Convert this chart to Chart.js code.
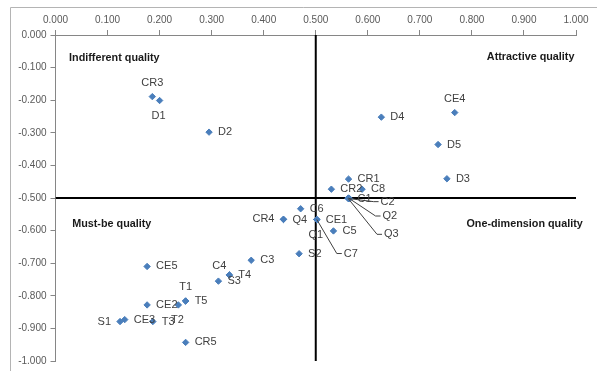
<!DOCTYPE html>
<html>
<head>
<meta charset="utf-8">
<script src="https://cdn.jsdelivr.net/npm/chart.js@4/dist/chart.umd.min.js"></script>
<style>
  body { margin: 0; background: #fff; }
  #wrap { width: 597px; height: 371px; }
</style>
</head>
<body>
<div id="wrap"><canvas id="kanoChart" width="597" height="371"></canvas></div>
<script>
// attribute codes and their (satisfaction, dissatisfaction) coordinates
var names = ['CR1', 'CR2', 'CR3', 'CR4', 'CR5', 'CE1', 'CE2', 'CE3', 'CE4', 'CE5',
             'C1', 'C2', 'C3', 'C4', 'C5', 'C6', 'C7', 'C8',
             'D1', 'D2', 'D3', 'D4', 'D5', 'Q1', 'Q2', 'Q3', 'Q4',
             'S1', 'S2', 'S3', 'T1', 'T2', 'T3', 'T4', 'T5'];
var xValues = [0.563, 0.530, 0.186, 0.438, 0.250, 0.502, 0.176, 0.133, 0.767, 0.176,
               0.563, 0.565, 0.376, 0.334, 0.534, 0.471, 0.502, 0.589,
               0.200, 0.295, 0.752, 0.626, 0.735, 0.502, 0.563, 0.562, 0.438,
               0.124, 0.468, 0.313, 0.250, 0.236, 0.187, 0.334, 0.250];
var yValues = [-0.442, -0.473, -0.189, -0.565, -0.943, -0.566, -0.828, -0.873, -0.238, -0.710,
               -0.502, -0.502, -0.691, -0.736, -0.601, -0.533, -0.566, -0.473,
               -0.201, -0.298, -0.441, -0.252, -0.336, -0.566, -0.500, -0.501, -0.566,
               -0.879, -0.671, -0.755, -0.816, -0.828, -0.879, -0.736, -0.816];

var xTicks = [0, 0.1, 0.2, 0.3, 0.4, 0.5, 0.6, 0.7, 0.8, 0.9, 1.0];
var yTicks = [0, -0.1, -0.2, -0.3, -0.4, -0.5, -0.6, -0.7, -0.8, -0.9, -1.0];

var quadrantNames = ['Indifferent quality', 'Attractive quality', 'Must-be quality', 'One-dimension quality'];
var quadrantX = [0.026, 0.997, 0.032, 1.013];
var quadrantY = [-0.071, -0.068, -0.580, -0.580];
var quadrantAlign = ['left', 'right', 'left', 'right'];

// where each point label goes (default is to the right)
var labelSide = { CR3: 'above', CE4: 'above', T1: 'above', D1: 'below', Q1: 'below', T2: 'below',
                  CR4: 'left', S1: 'left', C4: 'aboveLeft' };
// labels pulled away with a leader line: elbow offset from the point
var leaders = { C2: [24, 3], Q2: [27, 18], Q3: [29, 36], C7: [20, 34] };

var points = names.map(function (n, i) { return { x: xValues[i], y: yValues[i] }; });

var crossLines = {
    id: 'frameAndLabels',
    beforeDraw: function (chart) {
        var ctx = chart.ctx;
        ctx.save();
        ctx.strokeStyle = '#b4b4b4';
        ctx.lineWidth = 1;
        ctx.beginPath();
        ctx.moveTo(10.5, chart.height);
        ctx.lineTo(10.5, 7.5);
        ctx.lineTo(chart.width, 7.5);
        ctx.stroke();
        ctx.restore();
    },
    afterDatasetsDraw: function (chart) {
        var ctx = chart.ctx;
        var xs = chart.scales.x, ys = chart.scales.y;
        var meta = chart.getDatasetMeta(2);
        ctx.save();
        ctx.font = '11px "Liberation Sans", Arial, sans-serif';
        ctx.fillStyle = '#404040';
        ctx.textBaseline = 'middle';
        meta.data.forEach(function (pt, i) {
            var n = names[i];
            var px = pt.x, py = pt.y;
            if (leaders[n]) {
                var ex = px + leaders[n][0], ey = py + leaders[n][1];
                ctx.strokeStyle = '#404040';
                ctx.lineWidth = 1;
                ctx.beginPath();
                ctx.moveTo(px, py);
                ctx.lineTo(ex, ey);
                ctx.lineTo(ex + 5, ey);
                ctx.stroke();
                ctx.textAlign = 'left';
                ctx.fillText(n, ex + 7, ey);
                return;
            }
            var side = labelSide[n] || 'right';
            if (side === 'above') {
                ctx.textAlign = 'center';
                ctx.fillText(n, px, py - 14);
            } else if (side === 'below') {
                ctx.textAlign = 'center';
                ctx.fillText(n, px - 1, py + 15);
            } else if (side === 'left') {
                ctx.textAlign = 'right';
                ctx.fillText(n, px - 9, py);
            } else if (side === 'aboveLeft') {
                ctx.textAlign = 'center';
                ctx.fillText(n, px - 10, py - 9);
            } else {
                ctx.textAlign = 'left';
                ctx.fillText(n, px + 9, py);
            }
        });
        ctx.font = 'bold 10.8px "Liberation Sans", Arial, sans-serif';
        ctx.fillStyle = '#1a1a1a';
        quadrantNames.forEach(function (q, i) {
            ctx.textAlign = quadrantAlign[i];
            ctx.fillText(q, xs.getPixelForValue(quadrantX[i]), ys.getPixelForValue(quadrantY[i]));
        });
        ctx.restore();
    }
};

var ctx = document.getElementById('kanoChart').getContext('2d');
window.kanoChart = new Chart(ctx, {
    type: 'scatter',
    data: {
        datasets: [
            {
                label: 'x = 0.5',
                data: [{ x: 0.5, y: 0 }, { x: 0.5, y: -1 }],
                showLine: true,
                borderColor: '#000000',
                borderWidth: 2,
                pointRadius: 0,
                order: 3
            },
            {
                label: 'y = -0.5',
                data: [{ x: 0, y: -0.5 }, { x: 1, y: -0.5 }],
                showLine: true,
                borderColor: '#000000',
                borderWidth: 2,
                pointRadius: 0,
                order: 2
            },
            {
                label: 'attributes',
                data: points,
                pointStyle: 'rectRot',
                pointRadius: 3.2,
                backgroundColor: '#4a7ebb',
                borderColor: '#4a7ebb',
                borderWidth: 1,
                order: 1
            }
        ]
    },
    options: {
        responsive: false,
        animation: false,
        layout: { padding: { left: 0, top: 0, right: 21, bottom: 10 } },
        plugins: { legend: { display: false }, tooltip: { enabled: false } },
        scales: {
            x: {
                type: 'linear',
                position: 'top',
                min: 0,
                max: 1,
                afterBuildTicks: function (axis) { axis.ticks = xTicks.map(function (v) { return { value: v }; }); },
                afterFit: function (axis) { axis.height = 35; },
                ticks: {
                    padding: 4,
                    maxRotation: 0,
                    color: '#595959',
                    font: { family: '"Liberation Sans", Arial, sans-serif', size: 10 },
                    callback: function (v) { return v.toFixed(3); }
                },
                grid: { drawOnChartArea: false, tickLength: 5, color: '#868686' },
                border: { color: '#868686' }
            },
            y: {
                type: 'linear',
                min: -1,
                max: 0,
                afterBuildTicks: function (axis) { axis.ticks = yTicks.map(function (v) { return { value: v }; }); },
                afterFit: function (axis) { axis.width = 55.5; },
                ticks: {
                    padding: 4,
                    color: '#595959',
                    font: { family: '"Liberation Sans", Arial, sans-serif', size: 10 },
                    callback: function (v) { return v.toFixed(3); }
                },
                grid: { drawOnChartArea: false, tickLength: 5, color: '#868686' },
                border: { color: '#868686' }
            }
        }
    },
    plugins: [crossLines]
});
</script>
</body>
</html>
